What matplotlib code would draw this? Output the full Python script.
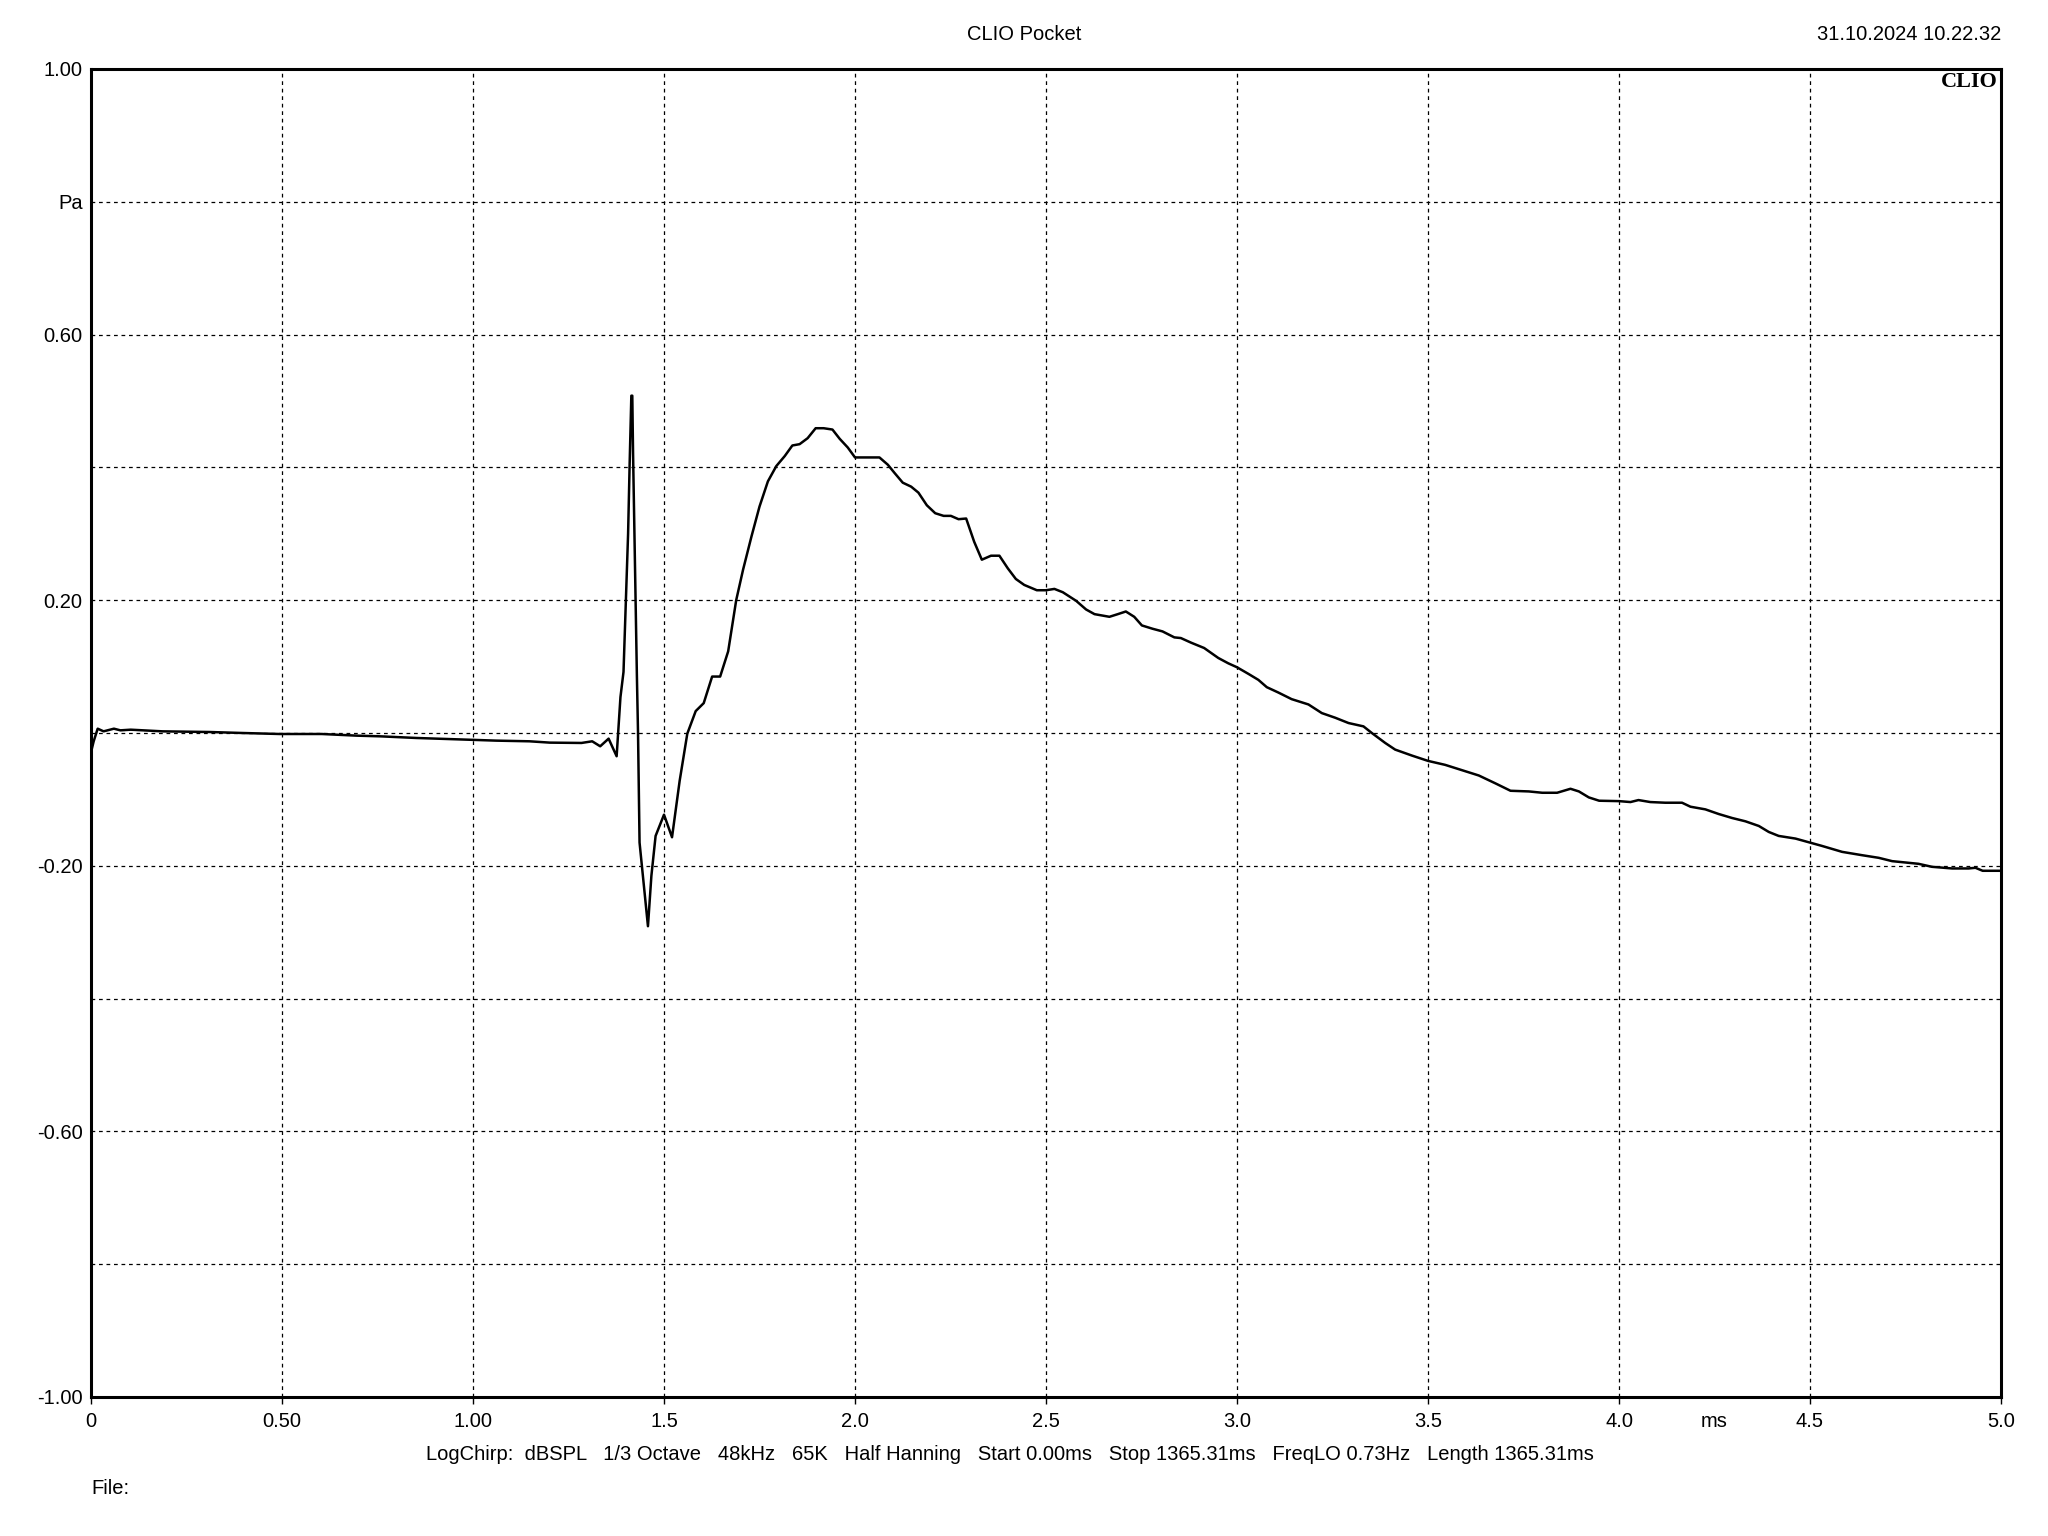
import matplotlib
matplotlib.use("Agg")
import matplotlib.pyplot as plt
from matplotlib.transforms import ScaledTranslation

plt.rcParams['font.family'] = ['Liberation Sans', 'DejaVu Sans']

# ---- data (time in ms, pressure in Pa) ----
time_ms = [0.000, 0.007, 0.0175, 0.033, 0.060, 0.077, 0.104, 0.187, 0.310, 0.397,
           0.494, 0.604, 0.696, 0.757, 0.852, 0.983, 1.061, 1.148, 1.201, 1.284,
           1.301, 1.312, 1.333, 1.355, 1.376, 1.386, 1.394, 1.406, 1.410, 1.4145,
           1.417, 1.419, 1.429, 1.432, 1.436, 1.458, 1.467, 1.478, 1.500, 1.521,
           1.541, 1.561, 1.583, 1.604, 1.626, 1.647, 1.668, 1.689, 1.707, 1.729,
           1.750, 1.772, 1.794, 1.816, 1.836, 1.855, 1.876, 1.897, 1.918, 1.941,
           1.960, 1.981, 2.000, 2.064, 2.086, 2.103, 2.125, 2.147, 2.166, 2.188,
           2.210, 2.232, 2.251, 2.271, 2.291, 2.312, 2.332, 2.356, 2.378, 2.400,
           2.421, 2.443, 2.476, 2.500, 2.522, 2.544, 2.579, 2.605, 2.627, 2.666,
           2.688, 2.709, 2.731, 2.751, 2.779, 2.805, 2.836, 2.853, 2.880, 2.914,
           2.951, 2.977, 3.000, 3.030, 3.056, 3.078, 3.108, 3.143, 3.187, 3.222,
           3.257, 3.292, 3.331, 3.353, 3.388, 3.414, 3.458, 3.500, 3.545, 3.589,
           3.633, 3.677, 3.716, 3.764, 3.799, 3.838, 3.873, 3.895, 3.921, 3.948,
           4.000, 4.030, 4.051, 4.082, 4.121, 4.165, 4.187, 4.226, 4.261, 4.296,
           4.331, 4.366, 4.392, 4.418, 4.462, 4.500, 4.531, 4.584, 4.636, 4.680,
           4.715, 4.784, 4.819, 4.872, 4.915, 4.933, 4.952, 5.000]
pressure_pa = [-0.029, -0.0125, 0.0065, 0.0025, 0.0065, 0.004, 0.005, 0.0025, 0.0015, 0.0,
               -0.0015, -0.0015, -0.004, -0.005, -0.0075, -0.010, -0.0115, -0.0125, -0.0145, -0.015,
               -0.0135, -0.0125, -0.020, -0.0085, -0.035, 0.054, 0.092, 0.300, 0.404, 0.508,
               0.508, 0.421, 0.087, 0.0, -0.165, -0.291, -0.215, -0.155, -0.123, -0.157,
               -0.072, -0.001, 0.033, 0.045, 0.085, 0.085, 0.123, 0.200, 0.246, 0.296,
               0.341, 0.379, 0.402, 0.417, 0.433, 0.435, 0.444, 0.459, 0.459, 0.457,
               0.443, 0.430, 0.415, 0.415, 0.404, 0.392, 0.377, 0.371, 0.362, 0.343,
               0.331, 0.327, 0.327, 0.322, 0.323, 0.288, 0.261, 0.267, 0.267, 0.248,
               0.232, 0.223, 0.215, 0.215, 0.217, 0.212, 0.199, 0.186, 0.179, 0.175,
               0.179, 0.183, 0.175, 0.162, 0.157, 0.153, 0.144, 0.143, 0.136, 0.128,
               0.113, 0.105, 0.099, 0.089, 0.080, 0.069, 0.061, 0.051, 0.043, 0.030,
               0.023, 0.015, 0.010, 0.000, -0.015, -0.025, -0.034, -0.042, -0.048, -0.056,
               -0.064, -0.076, -0.087, -0.088, -0.090, -0.090, -0.084, -0.088, -0.097, -0.102,
               -0.1026, -0.104, -0.101, -0.104, -0.105, -0.105, -0.111, -0.115, -0.122, -0.128,
               -0.133, -0.140, -0.149, -0.155, -0.159, -0.165, -0.170, -0.179, -0.184, -0.188,
               -0.193, -0.197, -0.2015, -0.204, -0.204, -0.203, -0.2075, -0.2075]

x_ticks = [0, 0.5, 1.0, 1.5, 2.0, 2.5, 3.0, 3.5, 4.0, 4.5, 5.0]
x_tick_labels = ['0', '0.50', '1.00', '1.5', '2.0', '2.5', '3.0', '3.5', '4.0', '4.5', '5.0']
y_ticks = [1.0, 0.8, 0.6, 0.4, 0.2, 0.0, -0.2, -0.4, -0.6, -0.8, -1.0]
y_tick_labels = ['1.00', 'Pa', '0.60', '', '0.20', '', '-0.20', '', '-0.60', '', '-1.00']
x_unit = 'ms'

title_text = 'CLIO Pocket'
date_text = '31.10.2024 10.22.32'
footer_text = ('LogChirp:  dBSPL   1/3 Octave   48kHz   65K   Half Hanning   '
               'Start 0.00ms   Stop 1365.31ms   FreqLO 0.73Hz   Length 1365.31ms')
file_text = 'File:'

# ---- figure ----
W, H = 2048, 1536
fig = plt.figure(figsize=(W / 100, H / 100), dpi=100)
left, right, top, bottom = 91 / W, 2001 / W, 69 / H, 1397 / H
ax = fig.add_axes([left, 1 - bottom, right - left, bottom - top])

ax.plot(time_ms, pressure_pa, color='black', linewidth=1.8, zorder=3)

ax.set_xlim(0, 5.0)
ax.set_ylim(-1.0, 1.0)
ax.set_xticks(x_ticks)
ax.set_xticklabels(x_tick_labels)
ax.set_yticks(y_ticks)
ax.set_yticklabels(y_tick_labels)

fs = 14.5
tick_len, tick_pad = 5, 6
ax.tick_params(axis='x', direction='out', length=tick_len, width=1, pad=tick_pad,
               labelsize=fs, colors='black')
ax.tick_params(axis='y', length=0, pad=6, labelsize=fs, colors='black')

ax.grid(True, color='black', linestyle=(0, (3, 3)), linewidth=0.9)
for sp in ax.spines.values():
    sp.set_linewidth(2.2)
    sp.set_color('black')

# "ms" unit label between 4.0 and 4.5, aligned with tick labels
unit_tr = ax.get_xaxis_transform() + ScaledTranslation(0, -(tick_len + tick_pad) / 72, fig.dpi_scale_trans)
ax.text(4.25, 0, x_unit, transform=unit_tr, ha='center', va='top', fontsize=fs, color='black')

# CLIO logo
ax.text(0.9985, 0.998, 'CLIO', transform=ax.transAxes, ha='right', va='top',
        fontsize=16, fontweight='bold', family=['Liberation Serif', 'DejaVu Serif'])

fig.text(1024 / W, 1 - 34 / H, title_text, ha='center', va='center', fontsize=fs)
fig.text(2001 / W, 1 - 34 / H, date_text, ha='right', va='center', fontsize=fs)
fig.text(426 / W, 1 - 1455 / H, footer_text, ha='left', va='center', fontsize=fs)
fig.text(91 / W, 1 - 1489 / H, file_text, ha='left', va='center', fontsize=fs)

fig.savefig('out.png', dpi=100, facecolor='white')
